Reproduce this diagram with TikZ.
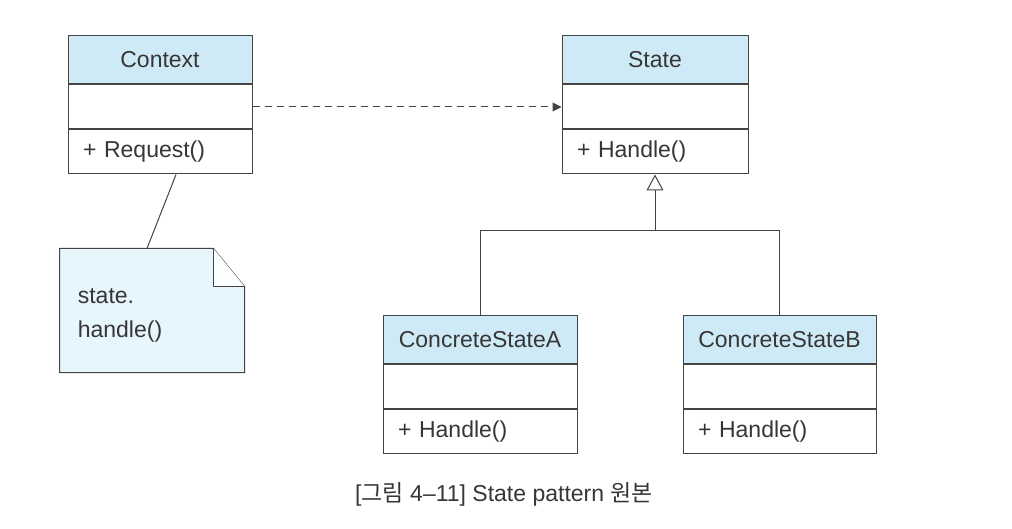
\documentclass[tikz,border=0pt]{standalone}
\usepackage{fontspec}
\setmainfont{Liberation Sans}
\newfontfamily\krfont{Noto Sans CJK KR}
\usetikzlibrary{positioning,arrows.meta}

\definecolor{linec}{HTML}{444444}
\definecolor{textc}{HTML}{363636}
\definecolor{headc}{HTML}{CFEAF7}
\definecolor{notec}{HTML}{E6F6FC}

\tikzset{
	classhead/.style={draw=linec, fill=headc, text=textc, minimum width=#1, minimum height=48pt, inner sep=0pt, font=\fontsize{23}{27}\selectfont},
	classattr/.style={draw=linec, fill=white, minimum width=#1, minimum height=44pt, inner sep=0pt},
	classmeth/.style={draw=linec, fill=white, text=textc, text width=#1-30pt, minimum height=44pt, inner xsep=15pt, inner ysep=0pt, align=left, font=\fontsize{23}{27}\selectfont},
	notebox/.style={draw=linec, fill=notec, line width=1pt},
	link/.style={draw=linec, line width=1pt},
	dep/.style={link, dash pattern=on 7pt off 5pt, -{Triangle[length=9pt,width=9pt]}},
	inherit/.style={link, -{Triangle[open,length=16pt,width=17pt,fill=white]}},
}

\begin{document}
\begin{tikzpicture}[x=1pt,y=-1pt, line width=1pt]
	\useasboundingbox (0,0) rectangle (1012,529);
	% Context
	\node[classhead=184pt] (ctx) at (160,60) {Context};
	\node[classattr=184pt, below=0pt of ctx] (ctxa) {};
	\node[classmeth=184pt, below=0pt of ctxa] (ctxm) {+ Request()};
	% State
	\node[classhead=186pt] (st) at (655,60) {State};
	\node[classattr=186pt, below=0pt of st] (sta) {};
	\node[classmeth=186pt, below=0pt of sta] (stm) {+ Handle()};
	% ConcreteStateA
	\node[classhead=194pt] (csa) at (480,339.5) {ConcreteStateA};
	\node[classattr=194pt, below=0pt of csa] (csaa) {};
	\node[classmeth=194pt, below=0pt of csaa] (csam) {+ Handle()};
	% ConcreteStateB
	\node[classhead=193pt] (csb) at (779.5,339.5) {ConcreteStateB};
	\node[classattr=193pt, below=0pt of csb] (csba) {};
	\node[classmeth=193pt, below=0pt of csba] (csbm) {+ Handle()};
	% note
	\node[minimum width=184pt, minimum height=123pt, inner sep=0pt] (note) at (152,310.5) {};
	\draw[notebox] (note.north west) -- ([xshift=-31pt]note.north east) -- ([yshift=-38pt]note.north east) -- (note.south east) -- (note.south west) -- cycle;
	\draw[notebox, fill=white!92!notec] ([xshift=-31pt]note.north east) -- ([xshift=-31pt,yshift=-38pt]note.north east) -- ([yshift=-38pt]note.north east);
	\node[anchor=west, text=textc, align=left, font=\fontsize{23}{34}\selectfont] (notetext) at (74,315) {state.\\handle()};
	% connectors
	\draw[link] ([xshift=16pt]ctxm.south) -- ([xshift=-5pt]note.north);
	\draw[dep] (ctxa.east) -- (sta.west);
	\coordinate (fork) at ([yshift=-56pt]stm.south);
	\draw[inherit] (fork) -- (stm.south);
	\draw[link] (csa.north) |- (fork) -| (csb.north);
	% caption
	\node[text=textc, font=\fontsize{23}{27}\selectfont] (caption) at (504,494) {[{\krfont 그림} 4–11] State pattern {\krfont 원본}};
\end{tikzpicture}
\end{document}
